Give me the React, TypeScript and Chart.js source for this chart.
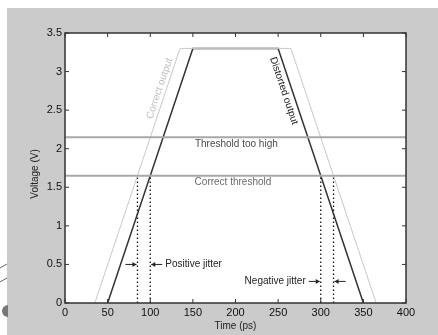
import React, { useEffect, useRef } from "react";
import { Chart, registerables } from "chart.js";

Chart.register(...registerables);

// ---- data ----
const correctTime = [35, 135, 265, 365];
const correctVolt = [0, 3.3, 3.3, 0];
const distortedTime = [50, 150, 250, 350];
const distortedVolt = [0, 3.3, 3.3, 0];
const thresholdHigh = 2.15;
const thresholdCorrect = 1.65;
const jitterTimes = [85, 100, 300, 315];
const xTicks = [0, 50, 100, 150, 200, 250, 300, 350, 400];
const yTicks = [0, 0.5, 1, 1.5, 2, 2.5, 3, 3.5];

const FONT = "'Liberation Sans', Arial, sans-serif";

function arrow(ctx: any, tipX: number, y: number, dir: number) {
  const len = 11;
  ctx.beginPath();
  ctx.moveTo(tipX - dir * len, y);
  ctx.lineTo(tipX, y);
  ctx.stroke();
  ctx.beginPath();
  ctx.moveTo(tipX, y);
  ctx.lineTo(tipX - dir * 4, y - 2.5);
  ctx.lineTo(tipX - dir * 4, y + 2.5);
  ctx.closePath();
  ctx.fill();
}

const decor = {
  id: "decor",
  beforeDraw(chart: any) {
    const { ctx, chartArea: a, width, height } = chart;
    ctx.save();
    ctx.fillStyle = "#ffffff";
    ctx.fillRect(0, 0, width, height);
    ctx.fillStyle = "#cbcbcb";
    ctx.fillRect(7, 8, width - 7, height - 8);
    ctx.fillStyle = "#ffffff";
    ctx.fillRect(a.left, a.top, a.right - a.left, a.bottom - a.top);
    // page-edge artifact at left
    ctx.strokeStyle = "#666";
    ctx.lineWidth = 1;
    ctx.beginPath();
    ctx.moveTo(0, 268);
    ctx.lineTo(7, 264);
    ctx.moveTo(0, 282);
    ctx.lineTo(7, 278);
    ctx.stroke();
    ctx.fillStyle = "#777";
    ctx.beginPath();
    ctx.arc(8, 311, 6, Math.PI / 2, (3 * Math.PI) / 2);
    ctx.fill();
    ctx.restore();
  },
  afterDraw(chart: any) {
    const { ctx, chartArea: a, scales } = chart;
    const xs = scales.x;
    const ys = scales.y;
    ctx.save();
    // box
    ctx.strokeStyle = "#333";
    ctx.lineWidth = 1.5;
    ctx.strokeRect(a.left, a.top, a.right - a.left, a.bottom - a.top);
    // inward ticks
    ctx.lineWidth = 1;
    ctx.beginPath();
    xTicks.forEach((v) => {
      const px = xs.getPixelForValue(v);
      ctx.moveTo(px, a.bottom);
      ctx.lineTo(px, a.bottom - 4);
      ctx.moveTo(px, a.top);
      ctx.lineTo(px, a.top + 4);
    });
    yTicks.forEach((v) => {
      const py = ys.getPixelForValue(v);
      ctx.moveTo(a.left, py);
      ctx.lineTo(a.left + 4, py);
      ctx.moveTo(a.right, py);
      ctx.lineTo(a.right - 4, py);
    });
    ctx.stroke();

    const X = (v: number) => xs.getPixelForValue(v);
    const Y = (v: number) => ys.getPixelForValue(v);

    ctx.font = `10px ${FONT}`;
    ctx.textBaseline = "middle";
    ctx.textAlign = "center";
    ctx.fillStyle = "#4a4a4a";
    ctx.fillText("Threshold too high", X(201), Y(2.06));
    ctx.fillStyle = "#6a6a6a";
    ctx.fillText("Correct threshold", X(197), Y(1.565));

    // rotated labels
    ctx.save();
    ctx.translate(X(111), Y(2.78));
    ctx.rotate((-71.5 * Math.PI) / 180);
    ctx.fillStyle = "#bdbdbd";
    ctx.fillText("Correct output", 0, 0);
    ctx.restore();

    ctx.save();
    ctx.translate(X(256.7), Y(2.75));
    ctx.rotate((71.5 * Math.PI) / 180);
    ctx.fillStyle = "#222";
    ctx.fillText("Distorted output", 0, 0);
    ctx.restore();

    // jitter annotations
    ctx.fillStyle = "#222";
    ctx.strokeStyle = "#222";
    ctx.lineWidth = 1;
    const yPos = Y(0.5);
    const yNeg = Y(0.28);
    arrow(ctx, X(jitterTimes[0]) - 1, yPos, 1);
    arrow(ctx, X(jitterTimes[1]) + 1, yPos, -1);
    ctx.textAlign = "left";
    ctx.fillText("Positive jitter", X(jitterTimes[1]) + 15, yPos);
    arrow(ctx, X(jitterTimes[2]) - 1, yNeg, 1);
    arrow(ctx, X(jitterTimes[3]) + 1, yNeg, -1);
    ctx.textAlign = "right";
    ctx.fillText("Negative jitter", X(jitterTimes[2]) - 15, yNeg);

    // axis titles
    ctx.fillStyle = "#222";
    ctx.textAlign = "center";
    ctx.fillText("Time (ps)", (a.left + a.right) / 2, 326);
    ctx.save();
    ctx.translate(35, 174);
    ctx.rotate(-Math.PI / 2);
    ctx.fillText("Voltage (V)", 0, 0);
    ctx.restore();

    ctx.restore();
  },
};

export default function App() {
  const ref = useRef<HTMLCanvasElement>(null);
  useEffect(() => {
    const toPts = (xs: number[], ys: number[]) => xs.map((x, i) => ({ x, y: ys[i] }));
    const hline = (v: number) => [
      { x: 0, y: v },
      { x: 400, y: v },
    ];
    const vline = (t: number) => [
      { x: t, y: 0 },
      { x: t, y: thresholdCorrect },
    ];
    const datasets: any[] = [
      { data: hline(thresholdHigh), borderColor: "#a8a8a8", borderWidth: 2 },
      { data: hline(thresholdCorrect), borderColor: "#a8a8a8", borderWidth: 2 },
      { data: toPts(correctTime, correctVolt), borderColor: "#c8c8c8", borderWidth: 1 },
      { data: toPts(distortedTime, distortedVolt), borderColor: "#333333", borderWidth: 1.5 },
      ...jitterTimes.map((t) => ({
        data: vline(t),
        borderColor: "#111",
        borderWidth: 1.3,
        borderDash: [1.5, 2.5],
      })),
    ].map((d) => ({ ...d, showLine: true, pointRadius: 0, fill: false, tension: 0 }));

    const tickFont = { family: FONT, size: 11 };
    const chart = new Chart(ref.current!, {
      type: "scatter",
      data: { datasets },
      options: {
        animation: false,
        responsive: false,
        events: [],
        layout: { padding: { left: 0, top: 33, right: 32, bottom: 0 } },
        plugins: { legend: { display: false }, tooltip: { enabled: false } },
        scales: {
          x: {
            type: "linear",
            min: 0,
            max: 400,
            afterFit: (s: any) => {
              s.height = 32;
            },
            afterBuildTicks: (s: any) => {
              s.ticks = xTicks.map((v) => ({ value: v }));
            },
            grid: { display: false, drawTicks: false },
            border: { display: false },
            ticks: {
              font: tickFont,
              color: "#111",
              padding: 3,
              maxRotation: 0,
              autoSkip: false,
              callback: (v: any) => String(v),
            },
          },
          y: {
            type: "linear",
            min: 0,
            max: 3.5,
            afterFit: (s: any) => {
              s.width = 65;
            },
            afterBuildTicks: (s: any) => {
              s.ticks = yTicks.map((v) => ({ value: v }));
            },
            grid: { display: false, drawTicks: false },
            border: { display: false },
            ticks: {
              font: tickFont,
              color: "#111",
              padding: 3,
              autoSkip: false,
              callback: (v: any) => String(v),
            },
          },
        },
      },
      plugins: [decor],
    });
    return () => chart.destroy();
  }, []);
  return (
    <div style={{ position: "fixed", left: 0, top: 0, width: 438, height: 335 }}>
      <canvas ref={ref} width={438} height={335} style={{ width: 438, height: 335 }} />
    </div>
  );
}
